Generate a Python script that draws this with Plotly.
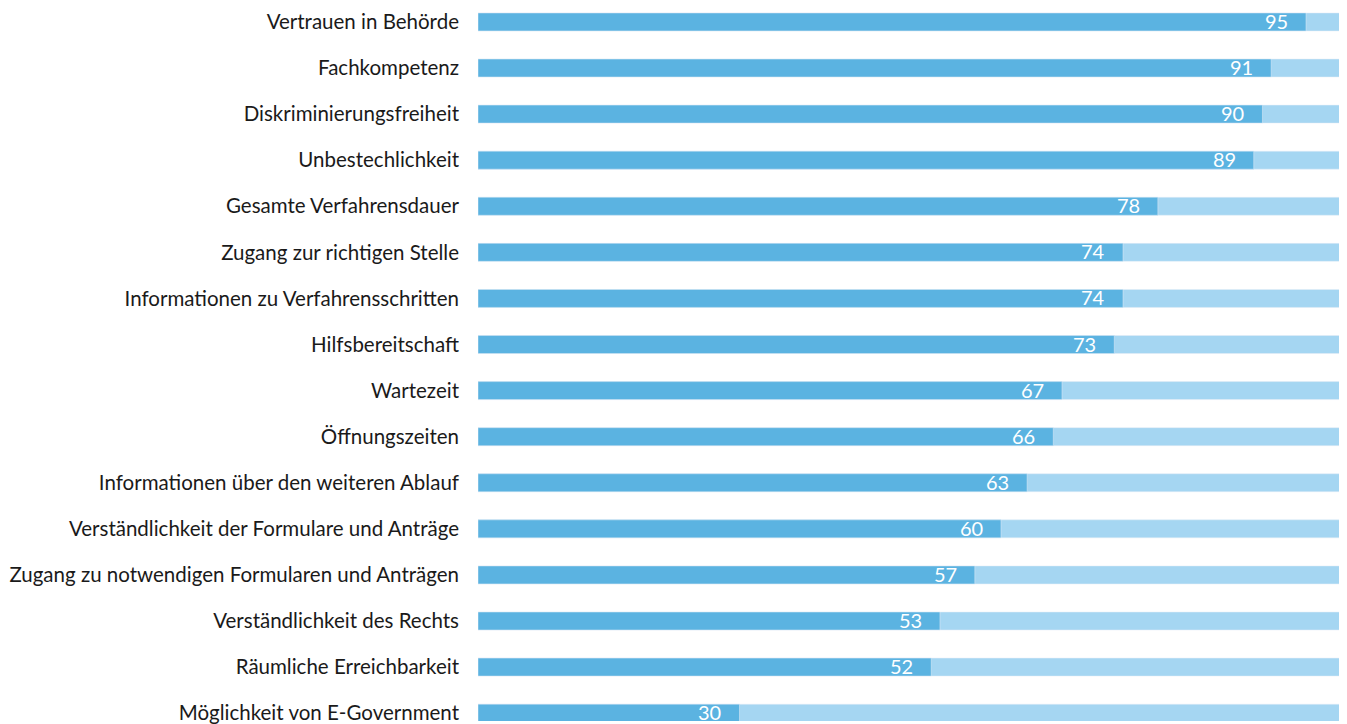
import plotly.graph_objects as go

kategorien = [
    "Vertrauen in Behörde",
    "Fachkompetenz",
    "Diskriminierungsfreiheit",
    "Unbestechlichkeit",
    "Gesamte Verfahrensdauer",
    "Zugang zur richtigen Stelle",
    "Informationen zu Verfahrensschritten",
    "Hilfsbereitschaft",
    "Wartezeit",
    "Öffnungszeiten",
    "Informationen über den weiteren Ablauf",
    "Verständlichkeit der Formulare und Anträge",
    "Zugang zu notwendigen Formularen und Anträgen",
    "Verständlichkeit des Rechts",
    "Räumliche Erreichbarkeit",
    "Möglichkeit von E-Government",
]
zufrieden = [95, 91, 90, 89, 78, 74, 74, 73, 67, 66, 63, 60, 57, 53, 52, 30]
gesamt = [100] * len(kategorien)

color_main = "#5bb3e1"
color_light = "#a5d6f2"

fig = go.Figure()

# Hintergrundbalken (100 %)
fig.add_trace(go.Bar(
    y=kategorien,
    x=gesamt,
    orientation="h",
    marker_color=color_light,
    width=0.39,
    hoverinfo="skip",
    showlegend=False,
))

# Anteil zufrieden
fig.add_trace(go.Bar(
    y=kategorien,
    x=zufrieden,
    orientation="h",
    marker_color=color_main,
    width=0.39,
    hovertemplate="%{y}: %{x}<extra></extra>",
    showlegend=False,
))

# Werte am Balkenende
for kat, val in zip(kategorien, zufrieden):
    fig.add_annotation(
        x=val, y=kat,
        text=str(val),
        showarrow=False,
        xanchor="right",
        yanchor="middle",
        xshift=-16,
        yshift=1,
        font=dict(family="Lato", size=20, color="white"),
    )

fig.update_layout(
    barmode="overlay",
    width=1339,
    height=716,
    margin=dict(l=470, r=0, t=0, b=0),
    paper_bgcolor="white",
    plot_bgcolor="white",
    font=dict(family="Lato", size=20.5, color="#1a1a1a"),
    xaxis=dict(
        range=[0, 99.7],
        visible=False,
        fixedrange=True,
    ),
    yaxis=dict(
        categoryorder="array",
        categoryarray=kategorien,
        range=[15.17, -0.3026],
        showgrid=False,
        zeroline=False,
        showline=False,
        ticks="",
        ticklabelstandoff=18,
        tickfont=dict(family="Lato", size=20.5, color="#1a1a1a"),
        fixedrange=True,
    ),
)

fig.write_html("out.html")
